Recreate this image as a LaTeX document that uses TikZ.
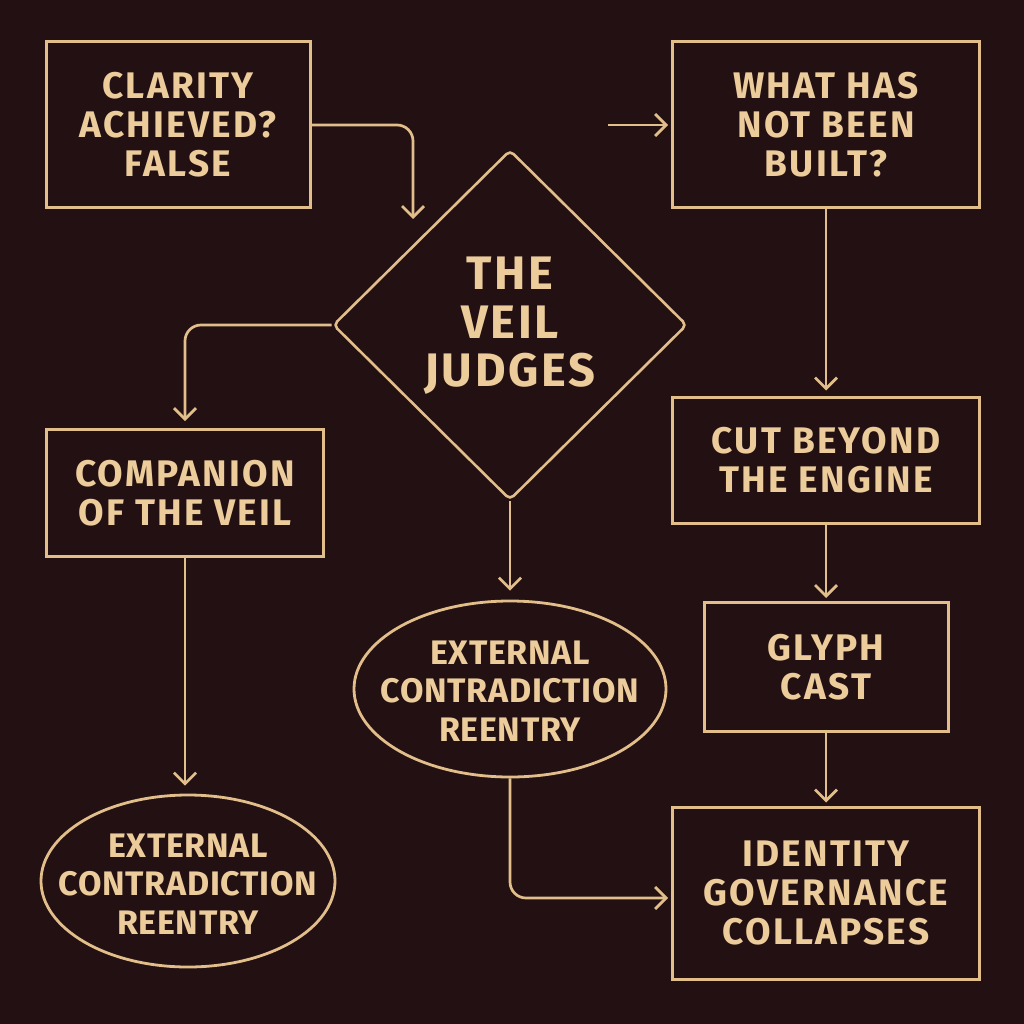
\documentclass[tikz,border=0pt]{standalone}
\usepackage{fontspec}
\setmainfont{Fira Sans}[LetterSpace=6]
\newfontfamily\ovalfont{Fira Sans}[LetterSpace=2]
\usetikzlibrary{arrows.meta,shapes.geometric}
\definecolor{bgc}{RGB}{35,16,19}
\definecolor{gold}{RGB}{226,190,138}
\definecolor{goldtxt}{RGB}{236,204,155}
\tikzset{
  boxnode/.style={draw=gold,line width=3pt,rectangle,inner sep=0pt,align=center,
    text=goldtxt,font=\fontsize{37}{39}\selectfont\bfseries},
  ovalnode/.style={draw=gold,line width=2.8pt,ellipse,inner sep=0pt},
  ovaltext/.style={align=center,text=goldtxt,font=\ovalfont\fontsize{34}{38.5}\selectfont\bfseries},
  arr/.style={draw=gold,line width=2.7pt,-{Straight Barb[length=11pt,width=22pt,line width=2.7pt]},rounded corners=16pt},
}
\begin{document}
\begin{tikzpicture}[x=1pt,y=-1pt]
\fill[bgc] (0,0) rectangle (1024,1024);
\useasboundingbox (0,0) rectangle (1024,1024);
% nodes
\node[boxnode,minimum width=264pt,minimum height=166pt] (b1) at (178,125) {CLARITY\\ACHIEVED?\\FALSE};
\node[boxnode,minimum width=277pt,minimum height=127pt] (b2) at (185,493) {COMPANION\\OF THE VEIL};
\node[boxnode,minimum width=307pt,minimum height=166pt] (b3) at (826,125) {WHAT HAS\\NOT BEEN\\BUILT?};
\node[boxnode,minimum width=307pt,minimum height=126pt] (b4) at (826,460) {CUT BEYOND\\THE ENGINE};
\node[boxnode,minimum width=244pt,minimum height=129pt] (b5) at (826,667) {GLYPH\\CAST};
\node[boxnode,minimum width=307pt,minimum height=172pt] (b6) at (826,893) {IDENTITY\\GOVERNANCE\\COLLAPSES};
\node[draw=gold,line width=2.6pt,diamond,minimum width=354pt,minimum height=350pt,inner sep=0pt,rounded corners=5pt] (dia) at (510,325) {};
\node[align=center,text=goldtxt,font=\fontsize{47}{48.5}\selectfont\bfseries] (dtxt) at (510,326) {THE\\VEIL\\JUDGES};
\node[ovalnode,minimum width=312pt,minimum height=176pt] (e1) at (510,689) {};
\node[ovaltext] (e1t) at (510,691) {EXTERNAL\\CONTRADICTION\\REENTRY};
\node[ovalnode,minimum width=294pt,minimum height=172pt] (e2) at (188,881) {};
\node[ovaltext] (e2t) at (188,884) {EXTERNAL\\CONTRADICTION\\REENTRY};
\coordinate (c1) at (413,219);
\coordinate (c2) at (608,125);
% connectors
\draw[arr] (b1.east) -| (c1);
\draw[arr,shorten >=7pt] (dia.west) -| (b2.north);
\draw[arr,shorten >=3pt] (c2) -- (b3.west);
\draw[arr,shorten >=5pt] (b3.south) -- (b4.north);
\draw[arr,shorten >=3pt] (b4.south) -- (b5.north);
\draw[arr,shorten >=3pt] (b5.south) -- (b6.north);
\draw[arr,shorten >=9pt] (dia.south) -- (e1.north);
\draw[arr,shorten >=3pt] (e1.south) |- ([yshift=-5pt]b6.west);
\draw[arr,shorten >=8pt] (b2.south) -- (b2.south |- e2.north);
\end{tikzpicture}
\end{document}
